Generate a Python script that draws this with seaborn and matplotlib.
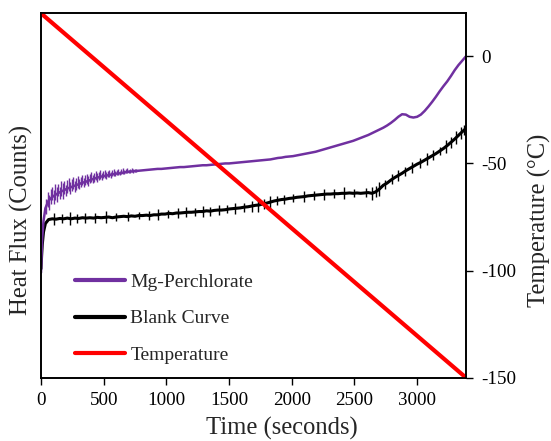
import numpy as np
import pandas as pd
import seaborn as sns
import matplotlib
matplotlib.use("Agg")
import matplotlib.pyplot as plt
from matplotlib.lines import Line2D

# Data (heat flux in arbitrary counts, 0-100 scale)
time_s = [0, 5, 10, 20, 35] + list(range(60, 3391, 30))

mg_perchlorate = [
    28.8, 34.0, 38.5, 43.0, 46.5,
    48.6, 49.6, 50.3, 50.9, 51.4, 51.9, 52.3, 52.7, 53.1, 53.5,
    53.8, 54.2, 54.6, 54.9, 55.2, 55.4, 55.6, 55.8, 56.0, 56.1,
    56.3, 56.5, 56.6, 56.7, 56.8, 56.9, 57.0, 57.1, 57.2, 57.3,
    57.3, 57.4, 57.5, 57.6, 57.7, 57.8, 57.8, 57.9, 58.0, 58.1,
    58.2, 58.3, 58.3, 58.4, 58.5, 58.6, 58.7, 58.8, 58.8, 58.9,
    59.0, 59.1, 59.2, 59.3, 59.4, 59.5, 59.6, 59.7, 59.8, 59.9,
    60.1, 60.3, 60.4, 60.6, 60.7, 60.8, 61.0, 61.2, 61.4, 61.6,
    61.8, 62.0, 62.3, 62.6, 62.9, 63.2, 63.5, 63.8, 64.1, 64.4,
    64.7, 65.0, 65.4, 65.8, 66.2, 66.6, 67.1, 67.6, 68.1, 68.6,
    69.2, 69.9, 70.7, 71.6, 72.3, 72.2, 71.6, 71.4, 71.6, 72.2,
    73.2, 74.4, 75.7, 77.1, 78.6, 80.0, 81.3, 82.8, 84.4, 85.8,
    87.0, 88.2,
]

blank_curve = [
    29.9, 33.5, 36.5, 40.0, 42.3,
    43.4, 43.6, 43.5, 43.7, 43.6, 43.8, 43.6, 43.8, 43.7, 43.9,
    43.8, 43.9, 43.8, 44.0, 43.9, 44.0, 44.1, 43.9, 44.1, 44.2,
    44.3, 44.2, 44.4, 44.3, 44.5, 44.5, 44.6, 44.5, 44.7, 44.7,
    44.9, 44.9, 45.1, 45.0, 45.2, 45.2, 45.3, 45.4, 45.4, 45.5,
    45.6, 45.6, 45.8, 45.7, 45.9, 46.0, 46.0, 46.1, 46.3, 46.4,
    46.5, 46.6, 46.8, 46.9, 47.1, 47.3, 47.4, 47.7, 47.9, 48.2,
    48.5, 48.7, 48.9, 49.0, 49.2, 49.3, 49.5, 49.6, 49.7, 49.9,
    50.0, 50.1, 50.2, 50.3, 50.4, 50.4, 50.5, 50.5, 50.6, 50.6,
    50.7, 50.6, 50.7, 50.6, 50.7, 50.8, 50.6, 51.0, 51.8, 52.8,
    53.4, 54.2, 54.9, 55.5, 56.1, 56.8, 57.4, 58.0, 58.6, 59.1,
    59.7, 60.3, 60.9, 61.5, 62.2, 62.9, 63.7, 64.6, 65.5, 66.5,
    67.5, 68.4,
]

# Signal noise: spike positions and half-heights (counts)
blank_spike_t = [100, 170, 230, 290, 350, 430, 520, 600, 690, 780,
                 860, 930, 1010, 1090, 1160, 1230, 1290, 1350, 1420, 1480,
                 1550, 1620, 1680, 1730, 1780, 1830, 1880, 1940, 2010, 2100,
                 2180, 2260, 2340, 2420, 2500, 2590, 2640, 2670, 2700, 2740,
                 2800, 2850, 2900, 2960, 3020, 3080, 3130, 3180, 3230, 3270,
                 3310, 3350, 3375]
blank_spike_half = [1.6, 1.3, 1.7, 1.2, 1.5, 1.4, 1.6, 1.1, 1.3, 1.0,
                    1.2, 1.5, 1.1, 1.3, 1.4, 1.0, 1.5, 1.2, 1.3, 1.1,
                    1.6, 1.2, 1.5, 1.8, 1.4, 1.6, 1.3, 1.2, 1.0, 1.4,
                    1.2, 1.5, 1.3, 1.6, 1.1, 1.2, 1.7, 1.5, 1.8, 1.3,
                    1.4, 1.6, 1.2, 1.5, 1.3, 1.6, 1.4, 1.2, 1.7, 1.5,
                    1.8, 1.6, 1.4]

mg_fuzz_t = list(range(40, 761, 12))
mg_fuzz_up = [2.2, 3.0, 1.4, 2.6, 2.9, 1.8, 3.1, 2.0, 2.5, 1.5,
              2.8, 2.1, 2.6, 1.3, 2.4, 2.7, 1.6, 2.2, 2.5, 1.2,
              2.0, 2.4, 1.5, 1.9, 2.2, 1.1, 1.8, 2.1, 1.4, 1.7,
              2.0, 1.0, 1.6, 1.9, 1.2, 1.5, 1.8, 0.9, 1.4, 1.6,
              1.0, 1.3, 1.5, 0.8, 1.2, 1.4, 0.9, 1.1, 1.3, 0.7,
              1.0, 1.2, 0.8, 0.9, 1.1, 0.6, 0.8, 1.0, 0.6, 0.7, 0.5]
mg_fuzz_down = [2.0, 1.2, 2.6, 1.5, 0.9, 2.3, 1.4, 2.1, 0.8, 1.9,
                1.3, 2.2, 1.0, 1.8, 1.2, 0.9, 1.7, 1.1, 0.7, 1.6,
                1.2, 0.8, 1.5, 1.0, 0.7, 1.4, 0.9, 0.6, 1.3, 0.8,
                0.7, 1.2, 0.8, 0.6, 1.1, 0.7, 0.5, 1.0, 0.6, 0.5,
                0.9, 0.6, 0.5, 0.8, 0.5, 0.4, 0.7, 0.5, 0.4, 0.6,
                0.4, 0.4, 0.5, 0.3, 0.4, 0.4, 0.3, 0.3, 0.4, 0.3, 0.3]

temp_time = [0, 3390]
temp_c = [20, -150]

x_ticks = [0, 500, 1000, 1500, 2000, 2500, 3000]
temp_ticks = [0, -50, -100, -150]

purple = "#7030A0"
red = "#FF0000"

sns.set_style("ticks")
plt.rcParams["font.family"] = ["Liberation Serif", "DejaVu Serif"]
plt.rcParams["axes.unicode_minus"] = False

df = pd.DataFrame({"Time": time_s, "Mg": mg_perchlorate, "Blank": blank_curve})
df_temp = pd.DataFrame({"Time": temp_time, "Temp": temp_c})

fig = plt.figure(figsize=(5.51, 4.41), dpi=100)
ax = fig.add_axes([41 / 551, 1 - 377.7 / 441, 425 / 551, 364.4 / 441])

sns.lineplot(data=df, x="Time", y="Blank", color="black", lw=2.2, ax=ax)
sns.lineplot(data=df, x="Time", y="Mg", color=purple, lw=1.8, ax=ax)

# noise around each trace
bc = np.interp(blank_spike_t, time_s, blank_curve)
bh = np.array(blank_spike_half)
ax.vlines(blank_spike_t, bc - bh, bc + bh, color="black", lw=1.0)
mc = np.interp(mg_fuzz_t, time_s, mg_perchlorate)
ax.vlines(mg_fuzz_t, mc - np.array(mg_fuzz_down), mc + np.array(mg_fuzz_up),
          color=purple, lw=1.0)

ax.set_xlim(0, 3390)
ax.set_ylim(0, 100)
ax.set_yticks([])
ax.set_xticks(x_ticks)
ax.tick_params(axis="x", direction="out", length=5, width=1, pad=5,
               labelsize=13.7, colors="black")
ax.set_xlabel("Time (seconds)", fontsize=17.7)
ax.set_ylabel("Heat Flux (Counts)", fontsize=17.7)
ax.xaxis.set_label_coords(0.567, -0.108)
ax.yaxis.set_label_coords(-0.019, 0.433)

ax2 = ax.twinx()
sns.lineplot(data=df_temp, x="Time", y="Temp", color=red, lw=3, ax=ax2)
ax2.set_ylim(-150, 20)
ax2.set_yticks(temp_ticks)
ax2.tick_params(axis="y", direction="out", length=5, width=1, pad=6,
                labelsize=13.7, colors="black")
ax2.set_ylabel("Temperature (°C)", fontsize=17.7)
ax2.yaxis.set_label_coords(1.146, 0.433)

for a in (ax, ax2):
    for sp in a.spines.values():
        sp.set_color("black")
        sp.set_linewidth(1.2)

handles = [
    Line2D([], [], color=purple, lw=3),
    Line2D([], [], color="black", lw=3),
    Line2D([], [], color=red, lw=3),
]
labels = ["Mg-Perchlorate", "Blank Curve", "Temperature"]
ax2.legend(handles, labels, loc="upper left", bbox_to_anchor=(0.08, 0.286),
           frameon=False, fontsize=14, handlelength=2.55, handletextpad=0.3,
           labelspacing=0.96, borderpad=0, borderaxespad=0)

fig.savefig("out.png", dpi=100)
